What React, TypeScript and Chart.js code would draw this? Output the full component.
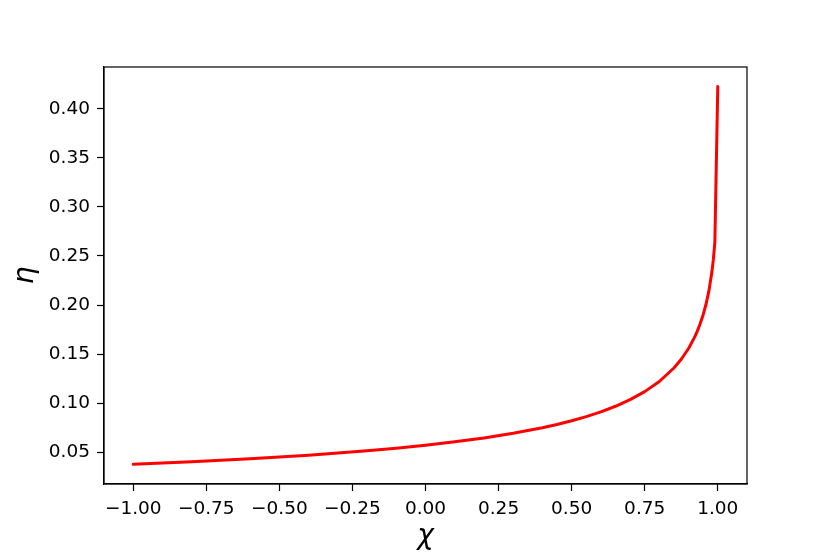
import React, { useEffect, useRef } from "react";
import { Chart, registerables } from "chart.js";

Chart.register(...registerables);

// Dimensionless spin values (x) and radiative efficiency (y)
const chiValues = [
  -1.0, -0.9, -0.8, -0.7, -0.6, -0.5, -0.4, -0.3, -0.2, -0.1,
  0.0, 0.1, 0.2, 0.3, 0.4, 0.45, 0.5, 0.55, 0.6, 0.65,
  0.7, 0.75, 0.8, 0.85, 0.875, 0.9, 0.92, 0.93, 0.94, 0.95,
  0.96, 0.97, 0.98, 0.985, 0.99, 1.0,
];
const etaValues = [
  0.03775, 0.039, 0.04035, 0.04181, 0.0434, 0.04514, 0.04706, 0.04918, 0.05154, 0.05419,
  0.05719, 0.06063, 0.06463, 0.06936, 0.07506, 0.07838, 0.08212, 0.08635, 0.09121, 0.09688,
  0.1036, 0.1118, 0.12214, 0.13587, 0.14475, 0.15575, 0.16683, 0.17347, 0.18113, 0.19014,
  0.20108, 0.21495, 0.23387, 0.24676, 0.26404, 0.42265,
];
const xTickValues = [-1.0, -0.75, -0.5, -0.25, 0.0, 0.25, 0.5, 0.75, 1.0];
const yTickValues = [0.05, 0.1, 0.15, 0.2, 0.25, 0.3, 0.35, 0.4];
const xLimits = [-1.1, 1.1];
const yLimits = [0.0177, 0.4425];
const xLabel = "χ";
const yLabel = "η";

const FONT = "DejaVu Sans";

const framePlugin = {
  id: "frame",
  afterDraw(chart: any) {
    const { ctx, chartArea } = chart;
    ctx.save();
    ctx.strokeStyle = "#000";
    ctx.lineWidth = 1.2;
    ctx.strokeRect(chartArea.left, chartArea.top, chartArea.right - chartArea.left, chartArea.bottom - chartArea.top);
    ctx.restore();
  },
};

const fmt = (v: number) => v.toFixed(2).replace("-", "\u2212");

export default function App() {
  const ref = useRef<HTMLCanvasElement | null>(null);
  useEffect(() => {
    if (!ref.current) return;
    const points = chiValues.map((x, i) => ({ x, y: etaValues[i] }));
    const chart = new Chart(ref.current, {
      type: "line",
      data: {
        datasets: [
          {
            data: points,
            borderColor: "#ff0000",
            borderWidth: 3,
            pointRadius: 0,
            tension: 0,
            fill: false,
            borderCapStyle: "round",
            borderJoinStyle: "round",
          },
        ],
      },
      options: {
        animation: false,
        responsive: true,
        maintainAspectRatio: false,
        layout: { padding: { left: 0, top: 67, right: 83, bottom: 0 } },
        plugins: { legend: { display: false }, tooltip: { enabled: false } },
        scales: {
          x: {
            type: "linear",
            min: xLimits[0],
            max: xLimits[1],
            afterBuildTicks: (axis: any) => {
              axis.ticks = xTickValues.map((v) => ({ value: v }));
            },
            afterFit: (scale: any) => {
              scale.height = 70;
            },
            grid: { drawOnChartArea: false, drawTicks: true, tickLength: 7, color: "#000", tickWidth: 1.2 },
            border: { display: true, color: "#000", width: 1.2 },
            ticks: {
              color: "#000",
              padding: 7,
              font: { family: FONT, size: 18.5 },
              maxRotation: 0,
              autoSkip: false,
              callback: (v: any) => fmt(Number(v)),
            },
            title: {
              display: true,
              text: xLabel,
              color: "#000",
              font: { family: FONT, size: 28, style: "italic" },
              padding: { top: 0, bottom: 0 },
            },
          },
          y: {
            type: "linear",
            min: yLimits[0],
            max: yLimits[1],
            afterBuildTicks: (axis: any) => {
              axis.ticks = yTickValues.map((v) => ({ value: v }));
            },
            afterFit: (scale: any) => {
              scale.width = 104;
            },
            grid: { drawOnChartArea: false, drawTicks: true, tickLength: 7, color: "#000", tickWidth: 1.2 },
            border: { display: true, color: "#000", width: 1.2 },
            ticks: {
              color: "#000",
              padding: 7,
              font: { family: FONT, size: 18.5 },
              autoSkip: false,
              callback: (v: any) => fmt(Number(v)),
            },
            title: {
              display: true,
              text: yLabel,
              color: "#000",
              font: { family: FONT, size: 28, style: "italic" },
              padding: { top: 9, bottom: 0 },
            },
          },
        },
      },
      plugins: [framePlugin],
    });
    return () => chart.destroy();
  }, []);
  return (
    <div style={{ position: "fixed", left: 0, top: 0, width: 830, height: 554, background: "#fff" }}>
      <canvas ref={ref} />
    </div>
  );
}
